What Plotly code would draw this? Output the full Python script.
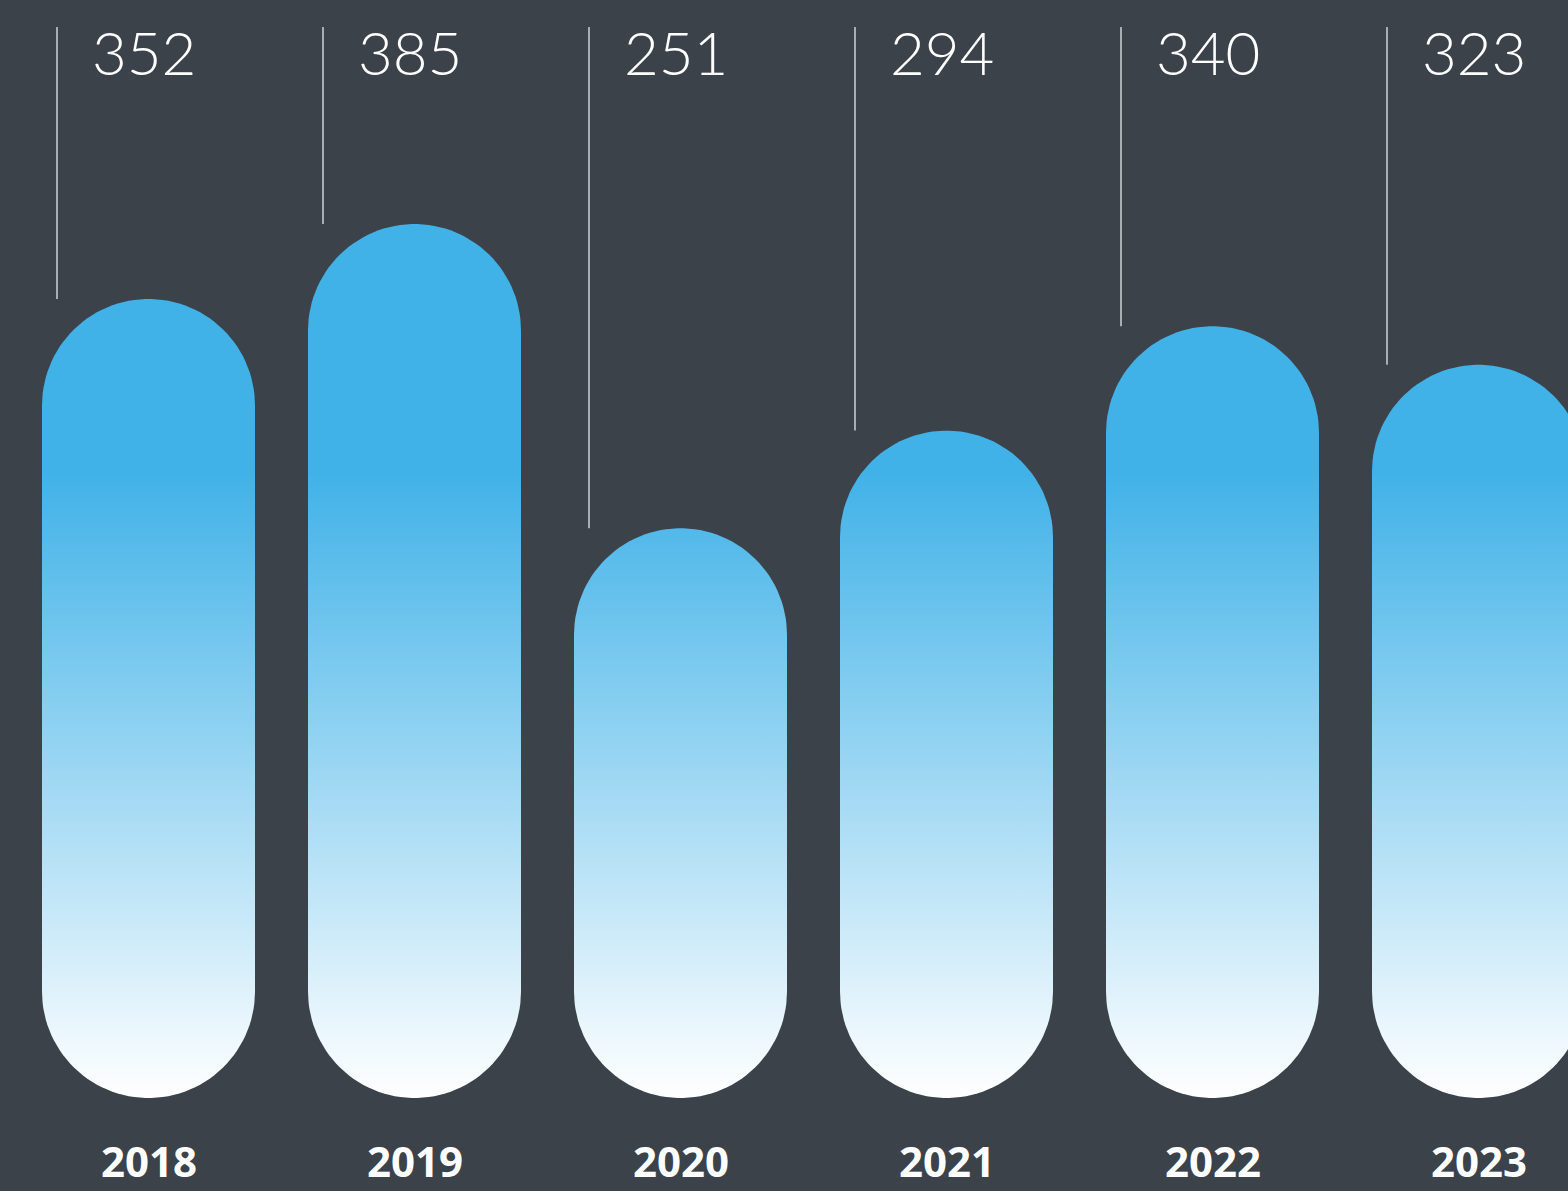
import numpy as np
import plotly.graph_objects as go

# ---- data ----
years = ["2018", "2019", "2020", "2021", "2022", "2023"]
values = [352, 385, 251, 294, 340, 323]

# ---- geometry / styling (pixel-based helpers) ----
W, H = 1568, 1191
BASE_PX = 1098          # pixel row of value 0
K = 2.27                # pixels per unit value
STEP = 266              # pixels per category
X0_PX = 148.5           # pixel centre of first category
BAR_HALF_PX = 106.5
LINE_OFF_PX = -91.5
LABEL_OFF_PX = 33
LINE_TOP_PX = 27

BG = "#3b424a"
BLUE = "#41b2e8"

xr = [-X0_PX / STEP, (W - X0_PX) / STEP]
yr = [-(H - BASE_PX) / K, BASE_PX / K]
rx = BAR_HALF_PX / STEP
ry = BAR_HALF_PX / K
line_top = (BASE_PX - LINE_TOP_PX) / K

fig = go.Figure()
t_top = np.linspace(0, np.pi, 60)
t_bot = np.linspace(np.pi, 2 * np.pi, 60)
for i, (yr_lbl, v) in enumerate(zip(years, values)):
    xs = np.concatenate([i + rx * np.cos(t_top), i + rx * np.cos(t_bot)])
    ys = np.concatenate([(v - ry) + ry * np.sin(t_top), ry + ry * np.sin(t_bot)])
    fig.add_trace(go.Scatter(
        x=xs, y=ys, mode="lines", fill="toself",
        line=dict(width=0, color=BLUE),
        fillgradient=dict(type="vertical",
                          colorscale=[[0, "#ffffff"], [1, BLUE]],
                          start=0, stop=(BASE_PX - 474) / K),
        hoverinfo="skip", showlegend=False,
    ))
    lx = i + LINE_OFF_PX / STEP
    fig.add_trace(go.Scatter(
        x=[lx, lx], y=[line_top, v], mode="lines",
        line=dict(color="rgba(255,255,255,0.95)", width=1.2),
        hoverinfo="skip", showlegend=False,
    ))
    fig.add_annotation(
        x=lx + LABEL_OFF_PX / STEP, y=1 - 52 / H, xref="x", yref="paper",
        text=str(v), showarrow=False, xanchor="left", yanchor="middle",
        font=dict(family="Lato", size=60, color="white", weight=300),
    )
    fig.add_annotation(
        x=i, y=0, xref="x", yref="paper",
        text=yr_lbl, showarrow=False, xanchor="center", yanchor="bottom",
        font=dict(family="Noto Sans", size=42, color="white", weight="bold"),
    )

fig.update_layout(
    width=W, height=H, margin=dict(l=0, r=0, t=0, b=0),
    paper_bgcolor=BG, plot_bgcolor=BG,
    xaxis=dict(range=xr, visible=False, fixedrange=True),
    yaxis=dict(range=yr, visible=False, fixedrange=True),
    showlegend=False,
)
fig.write_html(
    "out.html",
    config={"displayModeBar": False},
    post_script="document.body.style.margin='0';document.body.style.background='%s';document.body.style.overflow='hidden';" % BG,
)
